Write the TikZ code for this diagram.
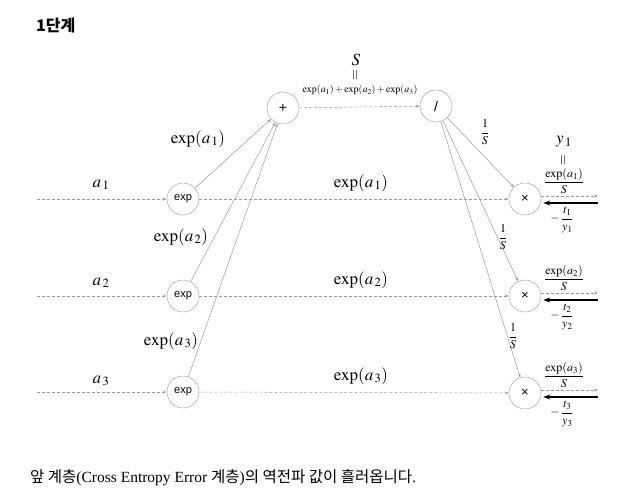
\documentclass[tikz,border=0pt]{standalone}
\usepackage{mathptmx}
\usepackage{fontspec}
\setmainfont{Liberation Serif}
\newfontfamily\cjk{Noto Sans CJK KR}
\newfontfamily\opsans{Liberation Sans}
\usetikzlibrary{arrows.meta}
\begin{document}
\begin{tikzpicture}[x=1pt,y=-1pt,
  op/.style={circle,draw=black!35,line width=0.5pt,minimum size=32pt,inner sep=0pt,fill=white,font=\opsans\fontsize{11}{12}\selectfont},
  flow/.style={draw=black!40,line width=0.5pt,densely dashed,-{Stealth[length=4pt,width=3pt,open]}},
  diag/.style={draw=black!40,line width=0.5pt,-{Stealth[length=4pt,width=3pt,open]}},
  back/.style={draw=black,line width=1.6pt,-{Stealth[length=7pt,width=5pt]}},
  big/.style={font=\fontsize{17}{20}\selectfont,inner sep=1pt},
  small/.style={font=\fontsize{10}{12}\selectfont,inner sep=1pt},
  frac/.style={font=\fontsize{12}{14}\selectfont,inner sep=1pt},
  vq/.style={font=\fontsize{14}{15}\selectfont,rotate=90,inner sep=0pt}]
\useasboundingbox (0,0) rectangle (629,499);

% title
\node[anchor=west,inner sep=0pt] (title) at (36,25) {\cjk\bfseries\fontsize{16}{19}\selectfont 1단계};

% operation nodes
\node[op] (e1) at (183,199) {exp};
\node[op] (e2) at (183,296) {exp};
\node[op] (e3) at (183,392) {exp};
\node[op] (p) at (283,108) {\fontsize{14}{15}\selectfont +};
\node[op] (d) at (436,106) {\fontsize{14}{15}\selectfont /};
\node[op] (m1) at (525,199) {\fontsize{13}{14}\selectfont ×};
\node[op] (m2) at (525,296) {\fontsize{13}{14}\selectfont ×};
\node[op] (m3) at (525,393) {\fontsize{13}{14}\selectfont ×};

% free ends
\coordinate (s1) at (37,199);
\coordinate (s2) at (37,296);
\coordinate (s3) at (37,392);
\coordinate (o1) at (598,196);
\coordinate (o2) at (598,293);
\coordinate (o3) at (598,390);
\coordinate (g1) at (598,203);
\coordinate (g2) at (598,300);
\coordinate (g3) at (598,397);

% inputs
\draw[flow] (s1) -- (e1);
\draw[flow] (s2) -- (e2);
\draw[flow] (s3) -- (e3);
% exp -> x
\draw[flow] (e1) -- (m1);
\draw[flow] (e2) -- (m2);
\draw[flow] (e3) -- (m3);
% exp -> +
\draw[diag] (e1) -- (p);
\draw[diag] (e2) -- (p);
\draw[diag] (e3) -- (p);
% + -> /
\draw[flow] (p) -- (d);
% / -> x
\draw[diag] (d) -- (m1);
\draw[diag] (d) -- (m2);
\draw[diag] (d) -- (m3);
% outputs
\draw[flow] (m1.east |- o1) -- (o1);
\draw[flow] (m2.east |- o2) -- (o2);
\draw[flow] (m3.east |- o3) -- (o3);
% backprop
\draw[back] (g1) -- ([xshift=2pt]m1.east |- g1);
\draw[back] (g2) -- ([xshift=2pt]m2.east |- g2);
\draw[back] (g3) -- ([xshift=2pt]m3.east |- g3);

% labels
\node[big] (la1) at (101,185) {$a_{\,1}$};
\node[big] (la2) at (101,283) {$a_{\,2}$};
\node[big] (la3) at (101,381) {$a_{\,3}$};
\node[big] (le1) at (198,139) {$\exp(a_{\,1})$};
\node[big] (le2) at (181,237) {$\exp(a_{\,2})$};
\node[big] (le3) at (171,341) {$\exp(a_{\,3})$};
\node[big] (lh1) at (361,183) {$\exp(a_{\,1})$};
\node[big] (lh2) at (361,280) {$\exp(a_{\,2})$};
\node[big] (lh3) at (361,376) {$\exp(a_{\,3})$};

\node[big] (S) at (356,60) {$S$};
\node[vq] (eqS) at (356,75) {$=$};
\node[small] (sum) at (360,90) {$\exp(a_1)+\exp(a_2)+\exp(a_3)$};

\node[frac] (r1) at (485,132) {$\displaystyle\frac{1}{S}$};
\node[frac] (r2) at (503,237) {$\displaystyle\frac{1}{S}$};
\node[frac] (r3) at (513,336) {$\displaystyle\frac{1}{S}$};

\node[big] (y1) at (564,142) {$y_{\,1}$};
\node[vq] (eqy) at (564,160) {$=$};
\node[frac] (f1) at (564,181) {$\displaystyle\frac{\exp(a_1)}{S}$};
\node[frac] (f2) at (564,278) {$\displaystyle\frac{\exp(a_2)}{S}$};
\node[frac] (f3) at (564,375) {$\displaystyle\frac{\exp(a_3)}{S}$};
\node[frac] (t1) at (562,220) {$-\,\displaystyle\frac{t_1}{y_1}$};
\node[frac] (t2) at (562,317) {$-\,\displaystyle\frac{t_2}{y_2}$};
\node[frac] (t3) at (562,414) {$-\,\displaystyle\frac{t_3}{y_3}$};

% caption
\node[anchor=west,inner sep=0pt,font=\fontsize{15.5}{18}\selectfont] (cap) at (30,478)
  {{\cjk 앞 계층}(Cross Entropy Error {\cjk 계층}){\cjk 의 역전파 값이 흘러옵니다}.};
\end{tikzpicture}
\end{document}
